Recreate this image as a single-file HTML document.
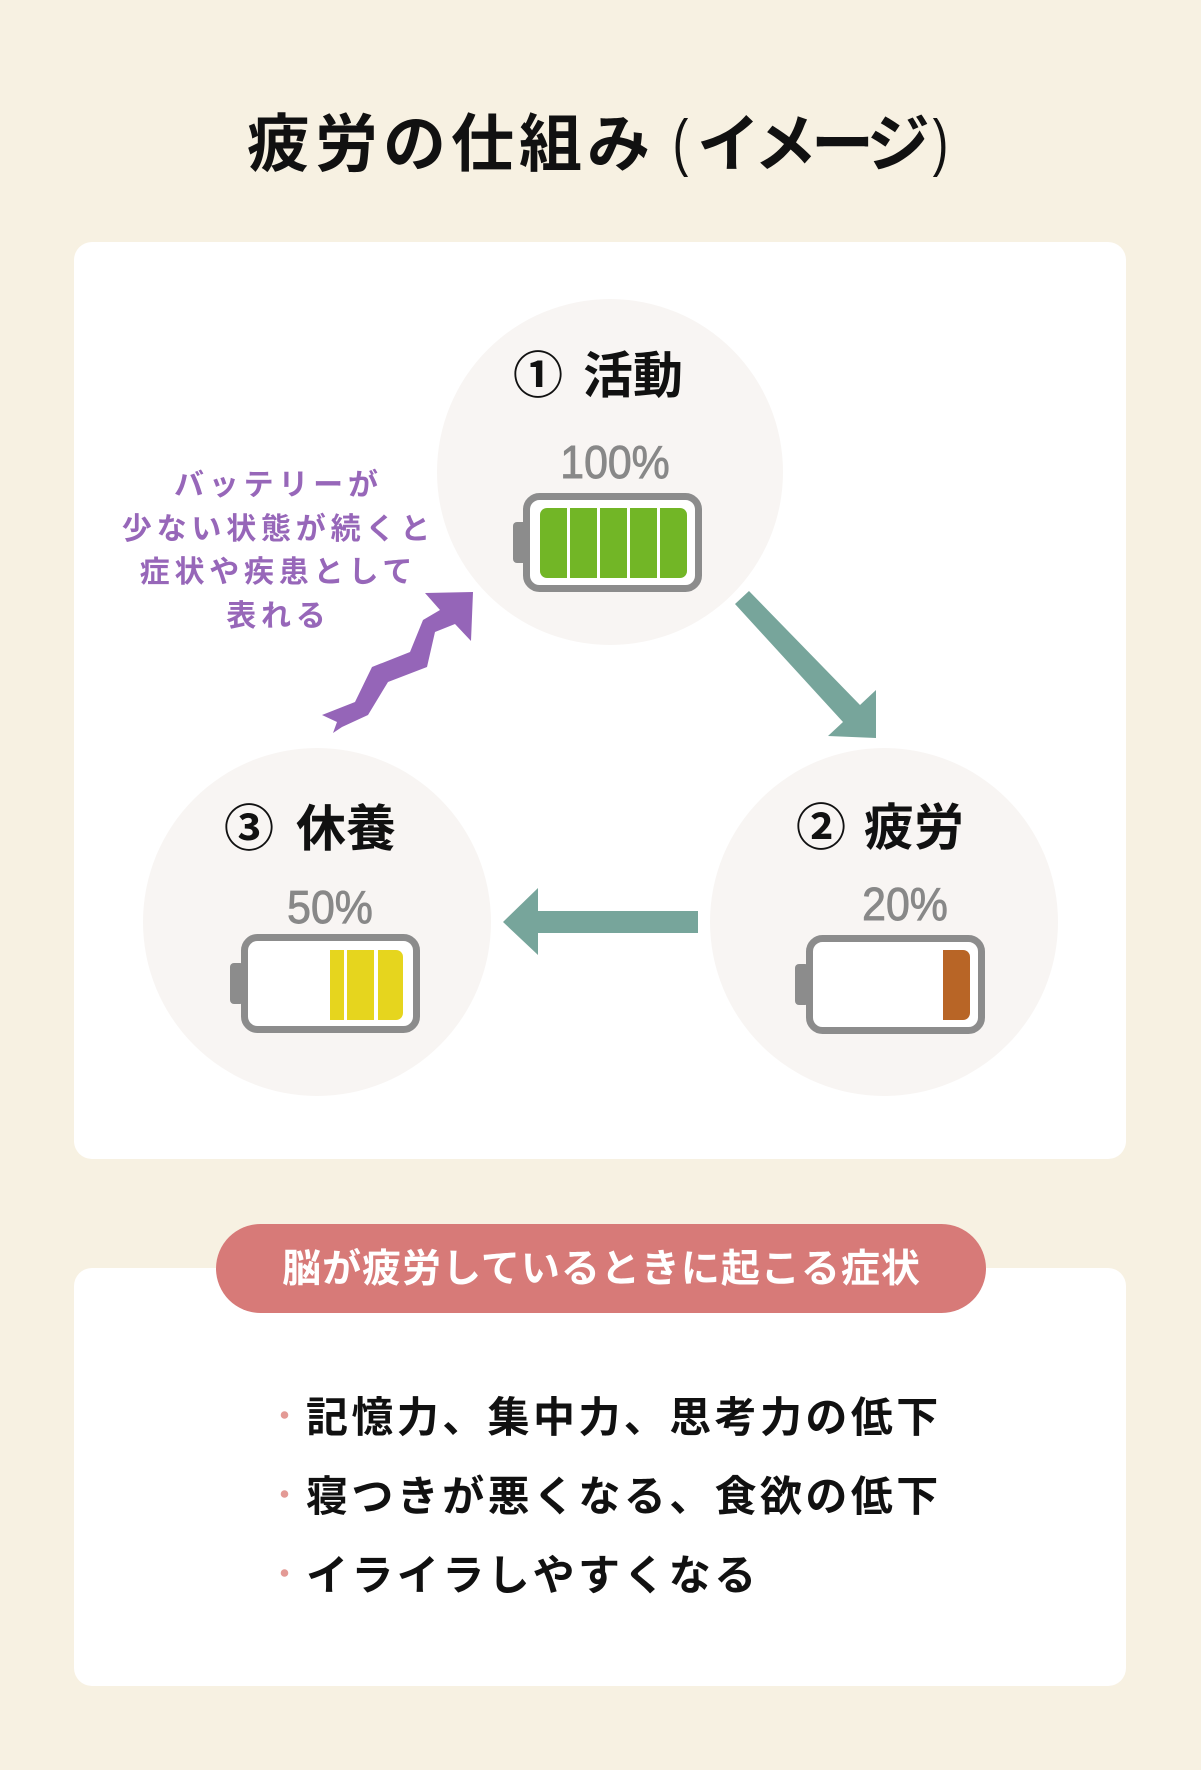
<!DOCTYPE html>
<html lang="ja">
<head>
<meta charset="utf-8">
<style>
  html, body { margin:0; padding:0; }
  body { width:1201px; height:1770px; background:#f7f1e2; position:relative; overflow:hidden;
         font-family:"Liberation Sans","Noto Sans CJK JP",sans-serif; }
  .t { position:absolute; white-space:nowrap; line-height:1; }
  svg { position:absolute; left:0; top:0; }
  .pct { font-size:46px; color:#888888; transform:scaleX(0.93); -webkit-text-stroke:0.9px #888888; text-align:center; width:200px; }
</style>
</head>
<body>
<svg width="1201" height="1770" viewBox="0 0 1201 1770" xmlns="http://www.w3.org/2000/svg">
  <!-- cards -->
  <rect x="74" y="242" width="1052" height="917" rx="18" fill="#ffffff"/>
  <rect x="74" y="1268" width="1052" height="418" rx="18" fill="#ffffff"/>

  <!-- circles -->
  <circle cx="610" cy="472" r="173" fill="#f8f5f3"/>
  <circle cx="317" cy="922" r="174" fill="#f8f5f3"/>
  <circle cx="884" cy="922" r="174" fill="#f8f5f3"/>

  <!-- teal arrow diagonal -->
  <polygon points="749,591 860,705 876,690 876,738 828,736 843,722 735,604" fill="#77a59b"/>
  <!-- teal arrow left -->
  <polygon points="503,922 538,888 538,911 698,911 698,933 538,933 538,955" fill="#77a59b"/>

  <!-- purple zigzag arrow -->
  <polygon points="425,593 473,592 471,641 455,624 435,632 427,667 388,682 368,715 342,727 333,733 337,722 322,715 355,702 372,667 410,652 423,620 440,610" fill="#9565b8"/>

  <!-- battery 1 (100%) -->
  <rect x="513" y="522" width="14" height="41" rx="4" fill="#8c8c8c"/>
  <rect x="526.5" y="496.5" width="172" height="92" rx="13" fill="#ffffff" stroke="#8c8c8c" stroke-width="7"/>
  <rect x="540" y="508" width="147" height="70" rx="7" fill="#72b626"/>
  <rect x="567" y="508" width="3" height="70" fill="#ffffff"/>
  <rect x="597" y="508" width="3" height="70" fill="#ffffff"/>
  <rect x="627" y="508" width="3" height="70" fill="#ffffff"/>
  <rect x="657" y="508" width="3" height="70" fill="#ffffff"/>

  <!-- battery 3 (50%) -->
  <rect x="230" y="963" width="14" height="41" rx="4" fill="#8c8c8c"/>
  <rect x="244.5" y="937.5" width="172" height="92" rx="13" fill="#ffffff" stroke="#8c8c8c" stroke-width="7"/>
  <rect x="330" y="950" width="73" height="70" rx="7" fill="#e6d51e"/>
  <rect x="330" y="950" width="15" height="70" fill="#e6d51e"/>
  <rect x="344" y="950" width="3" height="70" fill="#ffffff"/>
  <rect x="374" y="950" width="4" height="70" fill="#ffffff"/>

  <!-- battery 2 (20%) -->
  <rect x="795" y="964" width="14" height="41" rx="4" fill="#8c8c8c"/>
  <rect x="809.5" y="938.5" width="172" height="92" rx="13" fill="#ffffff" stroke="#8c8c8c" stroke-width="7"/>
  <rect x="943" y="950" width="27" height="70" rx="7" fill="#b86526"/>
  <rect x="943" y="950" width="12" height="70" fill="#b86526"/>

  <!-- pill -->
  <rect x="216" y="1224" width="770" height="89" rx="44.5" fill="#d77a78"/>

  <!-- bullets -->
  <circle cx="284.5" cy="1415" r="3.8" fill="#e39a95"/>
  <circle cx="284.5" cy="1494" r="3.8" fill="#e39a95"/>
  <circle cx="284.5" cy="1573" r="3.8" fill="#e39a95"/>
</svg>

<!-- title -->
<div class="t" style="left:247px; top:114px; font-size:63px; font-weight:bold; letter-spacing:5px; color:#111;">疲労の仕組み</div>
<div class="t" style="left:670px; top:112px; font-size:63px; font-weight:normal; color:#111; transform:scaleX(0.75);">(</div>
<div class="t" style="left:697px; top:114px; font-size:63px; font-weight:bold; letter-spacing:-6px; color:#111;">イメージ</div>
<div class="t" style="left:930px; top:112px; font-size:63px; font-weight:normal; color:#111; transform:scaleX(0.75);">)</div>

<!-- circle labels -->
<div class="t" style="left:513px; top:351px; font-size:50px; font-weight:bold; color:#111;">①</div>
<div class="t" style="left:583px; top:351px; font-size:50px; font-weight:bold; color:#111;">活動</div>

<div class="t" style="left:224px; top:804px; font-size:50px; font-weight:bold; color:#111;">③</div>
<div class="t" style="left:296px; top:804px; font-size:50px; font-weight:bold; color:#111;">休養</div>

<div class="t" style="left:796px; top:803px; font-size:50px; font-weight:bold; color:#111;">②</div>
<div class="t" style="left:864px; top:803px; font-size:50px; font-weight:bold; color:#111;">疲労</div>

<!-- percentages -->
<div class="t pct" style="left:515px; top:439px;">100%</div>
<div class="t pct" style="left:230px; top:884px;">50%</div>
<div class="t pct" style="left:805px; top:881px;">20%</div>

<!-- purple note -->
<div style="position:absolute; left:76px; width:400px; top:464px; text-align:center; font-size:30px; line-height:43.5px; font-weight:bold; letter-spacing:4.8px; padding-left:4.8px; box-sizing:border-box; color:#9767b9; font-family:'Liberation Sans','Noto Sans CJK JP',sans-serif;">バッテリーが<br>少ない状態が続くと<br>症状や疾患として<br>表れる</div>

<!-- pill text -->
<div class="t" style="left:216px; width:770px; text-align:center; top:1250px; font-size:39px; font-weight:bold; letter-spacing:1px; padding-left:1px; box-sizing:border-box; color:#ffffff;">脳が疲労しているときに起こる症状</div>

<!-- list -->
<div class="t" style="left:306px; top:1397px; font-size:42px; font-weight:bold; letter-spacing:3.4px; color:#111;">記憶力、集中力、思考力の低下</div>
<div class="t" style="left:306px; top:1476px; font-size:42px; font-weight:bold; letter-spacing:3.4px; color:#111;">寝つきが悪くなる、食欲の低下</div>
<div class="t" style="left:306px; top:1555px; font-size:42px; font-weight:bold; letter-spacing:3.4px; color:#111;">イライラしやすくなる</div>
</body>
</html>
